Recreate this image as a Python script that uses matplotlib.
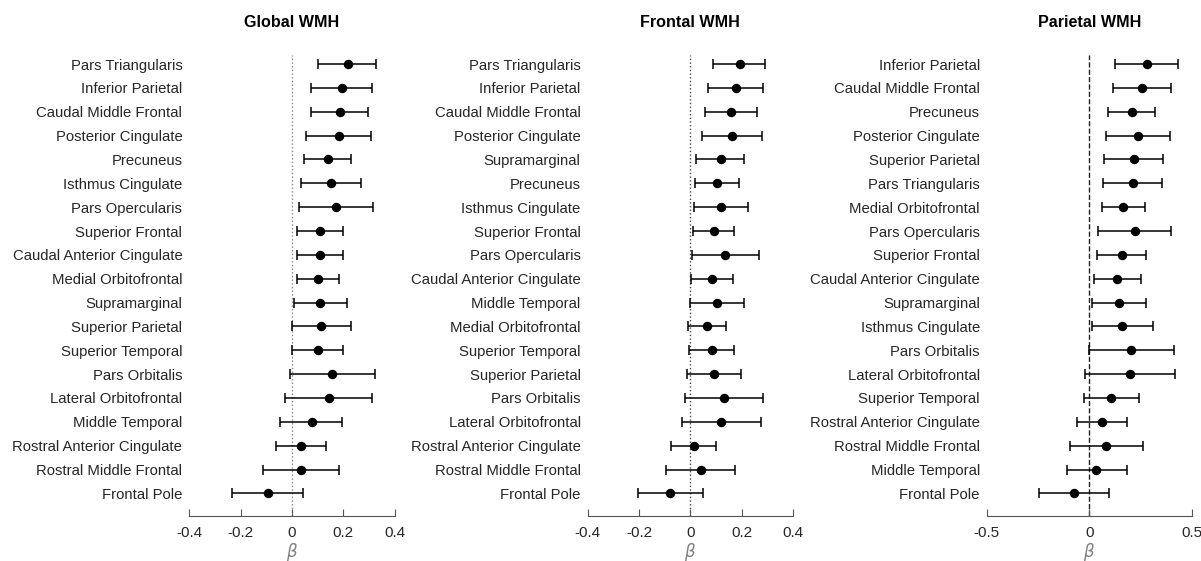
"""Forest plots of regional beta coefficients (with 95% CI) for global, frontal and parietal WMH."""
import numpy as np
import matplotlib.pyplot as plt

plt.rcParams['font.family'] = ['Liberation Sans', 'DejaVu Sans']

# --- Global WMH ---
global_regions = [
    "Pars Triangularis", "Inferior Parietal", "Caudal Middle Frontal", "Posterior Cingulate",
    "Precuneus", "Isthmus Cingulate", "Pars Opercularis", "Superior Frontal",
    "Caudal Anterior Cingulate", "Medial Orbitofrontal", "Supramarginal", "Superior Parietal",
    "Superior Temporal", "Pars Orbitalis", "Lateral Orbitofrontal", "Middle Temporal",
    "Rostral Anterior Cingulate", "Rostral Middle Frontal", "Frontal Pole",
]
global_beta = [0.217, 0.195, 0.186, 0.182, 0.141, 0.154, 0.172, 0.111, 0.110, 0.100,
               0.111, 0.115, 0.100, 0.158, 0.144, 0.078, 0.035, 0.035, -0.094]
global_lo = [0.101, 0.074, 0.074, 0.054, 0.048, 0.037, 0.028, 0.020, 0.018, 0.018,
             0.009, 0.000, 0.000, -0.008, -0.025, -0.045, -0.063, -0.112, -0.232]
global_hi = [0.327, 0.313, 0.297, 0.308, 0.232, 0.270, 0.316, 0.201, 0.200, 0.182,
             0.214, 0.230, 0.198, 0.322, 0.312, 0.197, 0.132, 0.182, 0.042]

# --- Frontal WMH ---
frontal_regions = [
    "Pars Triangularis", "Inferior Parietal", "Caudal Middle Frontal", "Posterior Cingulate",
    "Supramarginal", "Precuneus", "Isthmus Cingulate", "Superior Frontal",
    "Pars Opercularis", "Caudal Anterior Cingulate", "Middle Temporal", "Medial Orbitofrontal",
    "Superior Temporal", "Superior Parietal", "Pars Orbitalis", "Lateral Orbitofrontal",
    "Rostral Anterior Cingulate", "Rostral Middle Frontal", "Frontal Pole",
]
frontal_beta = [0.192, 0.179, 0.160, 0.163, 0.118, 0.105, 0.119, 0.092, 0.135, 0.085,
                0.105, 0.064, 0.083, 0.093, 0.131, 0.120, 0.015, 0.040, -0.078]
frontal_lo = [0.088, 0.069, 0.059, 0.047, 0.024, 0.019, 0.014, 0.011, 0.005, 0.002,
              -0.003, -0.007, -0.006, -0.012, -0.020, -0.032, -0.074, -0.094, -0.204]
frontal_hi = [0.293, 0.285, 0.262, 0.279, 0.209, 0.189, 0.224, 0.172, 0.267, 0.167,
              0.211, 0.138, 0.171, 0.198, 0.282, 0.274, 0.102, 0.174, 0.049]

# --- Parietal WMH ---
parietal_regions = [
    "Inferior Parietal", "Caudal Middle Frontal", "Precuneus", "Posterior Cingulate",
    "Superior Parietal", "Pars Triangularis", "Medial Orbitofrontal", "Pars Opercularis",
    "Superior Frontal", "Caudal Anterior Cingulate", "Supramarginal", "Isthmus Cingulate",
    "Pars Orbitalis", "Lateral Orbitofrontal", "Superior Temporal", "Rostral Anterior Cingulate",
    "Rostral Middle Frontal", "Middle Temporal", "Frontal Pole",
]
parietal_beta = [0.279, 0.258, 0.206, 0.239, 0.218, 0.211, 0.166, 0.223, 0.158, 0.136,
                 0.145, 0.161, 0.205, 0.198, 0.107, 0.060, 0.083, 0.034, -0.075]
parietal_lo = [0.125, 0.117, 0.091, 0.081, 0.073, 0.068, 0.062, 0.042, 0.039, 0.024,
               0.015, 0.011, -0.003, -0.019, -0.026, -0.061, -0.095, -0.110, -0.243]
parietal_hi = [0.432, 0.400, 0.320, 0.393, 0.361, 0.354, 0.271, 0.400, 0.276, 0.250,
               0.275, 0.312, 0.414, 0.417, 0.242, 0.182, 0.261, 0.185, 0.094]

titles = ["Global WMH", "Frontal WMH", "Parietal WMH"]
xlims = [(-0.4, 0.4), (-0.4, 0.4), (-0.5, 0.5)]
xticks = [[-0.4, -0.2, 0, 0.2, 0.4], [-0.4, -0.2, 0, 0.2, 0.4], [-0.5, 0, 0.5]]
zero_styles = [(':', '#888888'), (':', '#444444'), ('--', '#222222')]

panels = [
    (global_regions, global_beta, global_lo, global_hi),
    (frontal_regions, frontal_beta, frontal_lo, frontal_hi),
    (parietal_regions, parietal_beta, parietal_lo, parietal_hi),
]

fig = plt.figure(figsize=(12.01, 5.61), dpi=100)
lefts = [0.1576, 0.4893, 0.8216]

for k, (regions, beta, lo, hi) in enumerate(panels):
    ax = fig.add_axes([lefts[k], 0.0802, 0.1709, 0.8217])
    beta = np.asarray(beta)
    y = np.arange(1, len(regions) + 1)
    err = np.vstack([beta - np.asarray(lo), np.asarray(hi) - beta])

    ls, lc = zero_styles[k]
    ax.axvline(0, color=lc, ls=ls, lw=1.0, zorder=1)
    ax.errorbar(beta, y, xerr=err, fmt='o', color='black', ms=5.8,
                elinewidth=1.1, capsize=3.3, capthick=1.1, zorder=3)

    ax.set_xlim(*xlims[k])
    ax.set_ylim(19.95, 0.62)
    ax.set_yticks(y)
    ax.set_yticklabels(regions, fontsize=10.75, color='#262626')
    ax.tick_params(axis='y', length=0, pad=5)
    ax.set_xticks(xticks[k])
    ax.set_xticklabels([f"{t:g}" for t in xticks[k]], fontsize=11, color='#262626')
    ax.tick_params(axis='x', direction='in', length=5, width=0.8, color='#555555', pad=7)

    for side in ['top', 'right', 'left']:
        ax.spines[side].set_visible(False)
    ax.spines['bottom'].set_color('#555555')
    ax.spines['bottom'].set_linewidth(0.8)

    ax.set_xlabel(r'$\beta$', fontsize=12, color='#808080', labelpad=1)
    ax.set_title(titles[k], fontsize=11.6, fontweight='bold', pad=20)

fig.savefig('out.png', dpi=100)
